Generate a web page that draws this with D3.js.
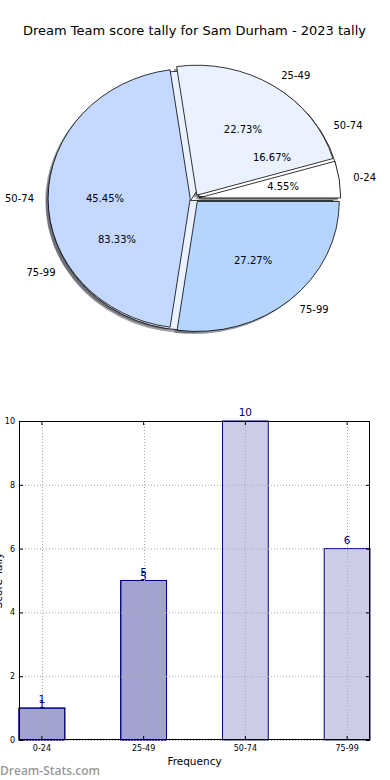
<!DOCTYPE html>
<html><head><meta charset="utf-8">
<script src="https://cdn.jsdelivr.net/npm/d3@7"></script>
<style>body{margin:0;background:#fff}svg{display:block}text{font-family:'DejaVu Sans',sans-serif}</style>
</head><body>
<script>
const title = "Dream Team score tally for Sam Durham - 2023 tally";
const pieCategories = ["0-24", "25-49", "50-74", "75-99"];
const pieValues = [1, 5, 10, 6];
const pie2Categories = ["50-74", "75-99"];
const pie2Values = [1, 5];
const pieColors = ["#ffffff", "#eaf1ff", "#c5d8ff", "#b5d5ff"];
const barCategories = ["0-24", "25-49", "50-74", "75-99"];
const barValues = [1, 5, 10, 6];
const barOverlayValues = [1, 5];
const yTicks = [0, 2, 4, 6, 8, 10];
const xLabel = "Frequency";
const yLabel = "Score Tally";
const watermark = "Dream-Stats.com";

const W = 390, H = 780;
const svg = d3.select("body").append("svg").attr("width", W).attr("height", H);

svg.append("text").attr("x", 194.5).attr("y", 35).attr("text-anchor", "middle")
  .style("font-size", "13px").attr("fill", "#000").text(title);

// ---------- Pie ----------
const cx = 194.5, cy = 198.5, rx = 142, ry = 130, explode = 0.03;
const pieGen = d3.pie().sort(null).value(d => d)
  .startAngle(Math.PI / 2).endAngle(Math.PI / 2 - 2 * Math.PI);
const arcGen = d3.arc().innerRadius(0).outerRadius(1);

const shadowLayer = svg.append("g").attr("transform", `translate(${cx},${cy}) scale(${rx},${ry})`);
const wedgeLayer = svg.append("g").attr("transform", `translate(${cx},${cy}) scale(${rx},${ry})`);
const textLayer = svg.append("g");

function drawPie(values, cats, colors) {
  const total = d3.sum(values);
  const arcs = pieGen(values);
  arcs.forEach((a, i) => {
    const mid = (a.startAngle + a.endAngle) / 2;
    const ex = explode * Math.sin(mid), ey = -explode * Math.cos(mid);
    const c = d3.rgb(colors[i % colors.length]);
    const sc = d3.rgb(c.r * 0.3, c.g * 0.3, c.b * 0.3);
    shadowLayer.append("path").attr("d", arcGen(a))
      .attr("transform", `translate(${ex - 0.02},${ey + 0.02})`)
      .attr("fill", sc.formatHex()).attr("fill-opacity", 0.5);
    wedgeLayer.append("path").attr("d", arcGen(a))
      .attr("transform", `translate(${ex},${ey})`)
      .attr("fill", c.formatHex()).attr("stroke", "#000")
      .attr("stroke-width", 0.8).attr("vector-effect", "non-scaling-stroke")
      .attr("stroke-linejoin", "round");
    const sx = Math.sin(mid), sy = -Math.cos(mid);
    textLayer.append("text")
      .attr("x", cx + rx * 1.13 * sx).attr("y", cy + ry * 1.13 * sy)
      .attr("dy", "0.36em").attr("text-anchor", sx > 0.001 ? "start" : "end")
      .style("font-size", "10px").text(cats[i]);
    textLayer.append("text")
      .attr("x", cx + rx * 0.63 * sx).attr("y", cy + ry * 0.63 * sy)
      .attr("dy", "0.36em").attr("text-anchor", "middle")
      .style("font-size", "10px").text(d3.format(".2f")(a.value / total * 100) + "%");
  });
}
drawPie(pie2Values, pie2Categories, pieColors);
drawPie(pieValues, pieCategories, pieColors);

// ---------- Bars ----------
const L = 19, R = 370, T = 421, B = 740;
const x = d3.scaleBand().domain(barCategories).range([L, R]).paddingInner(0.55).paddingOuter(0);
const y = d3.scaleLinear().domain([0, 10]).range([B, T]);
const navy = "#000080";

const bg = svg.append("g");
function drawBars(vals) {
  bg.append("g").selectAll("rect").data(vals).join("rect")
    .attr("x", (d, i) => x(barCategories[i])).attr("width", x.bandwidth())
    .attr("y", d => y(d)).attr("height", d => B - y(d))
    .attr("fill", navy).attr("fill-opacity", 0.2)
    .attr("stroke", navy).attr("stroke-width", 1);
}
drawBars(barValues);
drawBars(barOverlayValues);

// grid
const grid = svg.append("g").attr("stroke", "#a8a8a8").attr("stroke-dasharray", "1,2").attr("stroke-width", 1);
yTicks.forEach(t => grid.append("line").attr("x1", L).attr("x2", R).attr("y1", y(t) + 0.5).attr("y2", y(t) + 0.5));
barCategories.forEach(c => {
  const xc = Math.round(x(c) + x.bandwidth() / 2) + 0.5;
  grid.append("line").attr("x1", xc).attr("x2", xc).attr("y1", T).attr("y2", B);
});

// value labels
const lab = svg.append("g").attr("fill", navy).attr("text-anchor", "middle").style("font-size", "10.5px");
barValues.forEach((v, i) => lab.append("text").attr("x", x(barCategories[i]) + x.bandwidth() / 2).attr("y", y(v) - 5).text(v));
barOverlayValues.forEach((v, i) => lab.append("text").attr("x", x(barCategories[i]) + x.bandwidth() / 2).attr("y", y(v) - 0.5).text(v));

// axes
const axL = svg.append("g").attr("transform", `translate(${L},0)`)
  .call(d3.axisLeft(y).tickValues(yTicks).tickSizeInner(-4).tickSizeOuter(0).tickPadding(4));
const axR = svg.append("g").attr("transform", `translate(${R},0)`)
  .call(d3.axisRight(y).tickValues(yTicks).tickSizeInner(-4).tickSizeOuter(0).tickFormat(""));
const axB = svg.append("g").attr("transform", `translate(0,${B})`)
  .call(d3.axisBottom(x).tickSizeInner(-4).tickSizeOuter(0).tickPadding(5));
const axT = svg.append("g").attr("transform", `translate(0,${T})`)
  .call(d3.axisTop(x).tickSizeInner(-4).tickSizeOuter(0).tickFormat(""));
[axL, axR, axB, axT].forEach(a => {
  a.select(".domain").remove();
  a.selectAll("text").style("font-family", "'DejaVu Sans'").style("font-size", "8px").attr("fill", "#000");
  a.selectAll("line").attr("stroke", "#000");
});
svg.append("rect").attr("x", L + 0.5).attr("y", T + 0.5).attr("width", R - L - 1).attr("height", B - T - 1)
  .attr("fill", "none").attr("stroke", "#000").attr("stroke-width", 1);

svg.append("text").attr("x", (L + R) / 2).attr("y", 765).attr("text-anchor", "middle")
  .style("font-size", "10.5px").text(xLabel);
svg.append("text").attr("transform", `translate(1.5,${(T + B) / 2}) rotate(-90)`)
  .attr("text-anchor", "middle").style("font-size", "10.5px").text(yLabel);

svg.append("text").attr("x", 0).attr("y", 775)
  .style("font-family", "'Open Sans'").style("font-weight", 600).style("font-size", "12px")
  .attr("fill", "#999").text(watermark);
</script>
</body></html>
